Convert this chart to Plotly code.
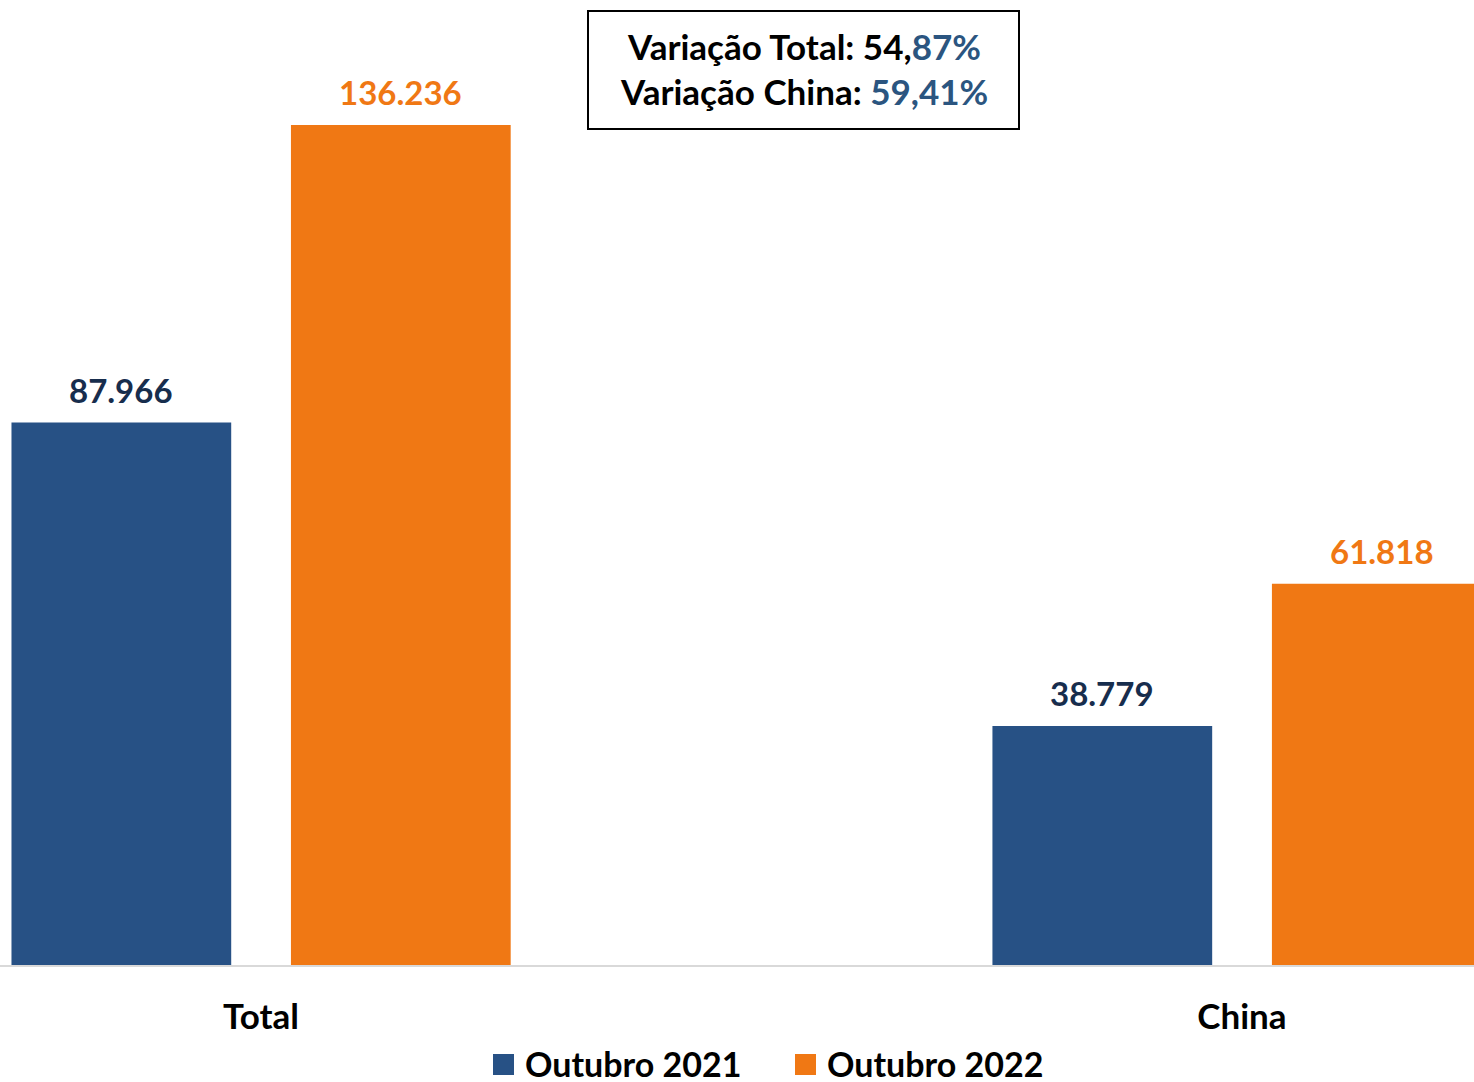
import plotly.graph_objects as go

categories = ["Total", "China"]
series_names = ["Outubro 2021", "Outubro 2022"]
values_2021 = [87966, 38779]
values_2022 = [136236, 61818]
colors = ["#275185", "#F07814"]
label_colors = ["#172D4D", "#F07814"]

W, H = 1474, 1082
plot_bottom = 965
FONT = "Lato"

bar_w = 0.224
offsets = [-0.2543, 0.0306]

fig = go.Figure()
for vals, name, col, off in zip([values_2021, values_2022], series_names, colors, offsets):
    fig.add_trace(go.Bar(
        x=categories, y=vals, name=name, marker=dict(color=col, line=dict(width=0)),
        width=bar_w, offset=off, showlegend=False,
    ))

annotations = []
for vals, col, off in zip([values_2021, values_2022], label_colors, offsets):
    for i, v in enumerate(vals):
        annotations.append(dict(
            x=i + off + bar_w / 2, y=v, xref="x", yref="y",
            text=f"{v:,}".replace(",", "."), showarrow=False,
            yanchor="bottom", yshift=11,
            font=dict(family=FONT, size=33, color=col, weight="bold"),
        ))

def py(px):
    return 1 - px / plot_bottom

# Variation box
fig.add_shape(type="rect", xref="paper", yref="paper",
              x0=588 / W, x1=1019 / W, y0=py(129), y1=py(11),
              line=dict(color="black", width=2), fillcolor="white", layer="above")
annotations.append(dict(
    x=803.5 / W, y=py(46), xref="paper", yref="paper", showarrow=False,
    text="Variação Total: 54,<span style='color:#2B5580'>87%</span>",
    font=dict(family=FONT, size=35, color="black", weight="bold"), yanchor="middle"))
annotations.append(dict(
    x=803.5 / W, y=py(91), xref="paper", yref="paper", showarrow=False,
    text="Variação China: <span style='color:#2B5580'>59,41%</span>",
    font=dict(family=FONT, size=35, color="black", weight="bold"), yanchor="middle"))

# Legend
leg_items = [(493, 523), (795, 825)]
for (sx, tx), name, col in zip(leg_items, series_names, colors):
    fig.add_shape(type="rect", xref="paper", yref="paper",
                  x0=sx / W, x1=(sx + 21) / W, y0=py(1075), y1=py(1054),
                  line=dict(width=0), fillcolor=col)
    annotations.append(dict(
        x=tx / W, y=py(1063), xref="paper", yref="paper", showarrow=False,
        xanchor="left", yanchor="middle", text=name, height=34, valign="middle",
        font=dict(family=FONT, size=34, color="black", weight="bold")))

ymax = plot_bottom / (840 / 136236)
fig.update_layout(
    width=W, height=H,
    margin=dict(l=0, r=0, t=0, b=H - plot_bottom, pad=0),
    paper_bgcolor="white", plot_bgcolor="white",
    separators=",.",
    barmode="group",
    annotations=annotations,
    xaxis=dict(type="category", range=[-0.266, 1.2366],
               showline=True, linecolor="#D9D9D9", linewidth=2,
               showgrid=False, ticks="", ticklabelstandoff=20,
               tickfont=dict(family=FONT, size=35, color="black", weight="bold")),
    yaxis=dict(range=[0, ymax], visible=False, showgrid=False, zeroline=False),
)

fig.write_html("out.html", config={"displayModeBar": False},
               post_script="document.body.style.margin='0';document.body.style.padding='0';document.body.style.overflow='hidden';")
